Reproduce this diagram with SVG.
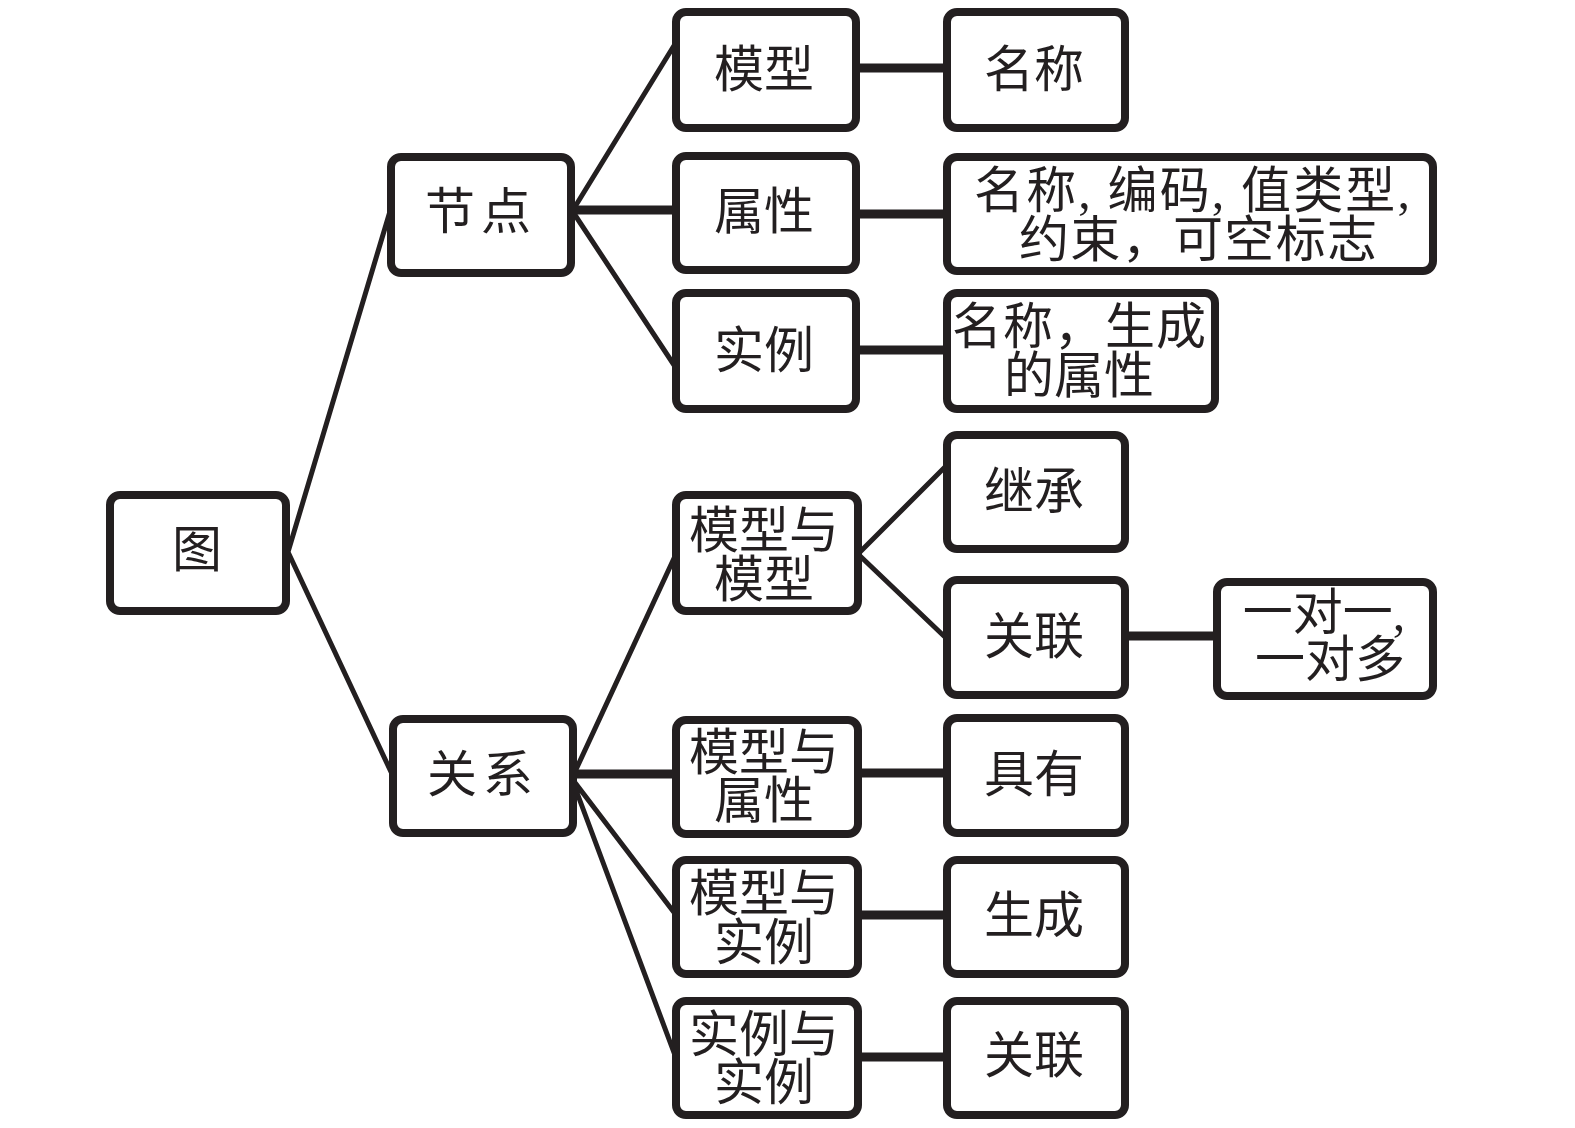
<svg xmlns="http://www.w3.org/2000/svg" width="1575" height="1128" viewBox="0 0 1575 1128">
<style>
.box{fill:#fff;stroke:#231f20;stroke-width:8}
.t{font-family:"Liberation Serif","Noto Sans CJK SC",serif;font-size:50px;fill:#231f20;text-anchor:middle}
.ln{stroke:#231f20;stroke-width:5;fill:none}
.hl{stroke:#231f20;stroke-width:9;fill:none}
</style>
<rect width="1575" height="1128" fill="#fff"/>
<g id="connectors">
<path class="ln" d="M288 552 L391 208 M288 552 L392 774"/>
<path class="ln" d="M573 210 L675 44 M573 212 L676 368 M573 776 L676 554 M573 780 L676 915 M573 782 L676 1058 M859 553 L946 466 M859 555 L946 638"/>
<path class="hl" d="M573 210 L675 210 M859 68 L946 68 M859 214 L946 214 M859 350 L946 350 M1128 636 L1217 636 M573 774 L676 774 M860 773 L946 773 M860 915 L946 915 M860 1057 L946 1057"/>
</g>
<g id="n-tu"><rect class="box" x="110" y="495" width="176" height="116" rx="10"/><text class="t" x="197" y="567">图</text></g>
<g id="n-jiedian"><rect class="box" x="391" y="157" width="180" height="116" rx="10"/><text class="t" x="481" y="229" letter-spacing="6">节点</text></g>
<g id="n-moxing"><rect class="box" x="676" y="12" width="180" height="116" rx="10"/><text class="t" x="764" y="87">模型</text></g>
<g id="n-mingcheng"><rect class="box" x="947" y="12" width="178" height="116" rx="10"/><text class="t" x="1034" y="87">名称</text></g>
<g id="n-shuxing"><rect class="box" x="676" y="156" width="180" height="114" rx="10"/><text class="t" x="764" y="229">属性</text></g>
<g id="n-shuxing-d"><rect class="box" x="947" y="157" width="486" height="114" rx="10"/><text class="t" x="1192" y="208" textLength="436" lengthAdjust="spacing">名称, 编码, 值类型,</text><text class="t" x="1198" y="257" textLength="358" lengthAdjust="spacing">约束，可空标志</text></g>
<g id="n-shili"><rect class="box" x="676" y="293" width="180" height="116" rx="10"/><text class="t" x="764" y="368">实例</text></g>
<g id="n-shili-d"><rect class="box" x="947" y="293" width="268" height="116" rx="10"/><text class="t" x="1079" y="344" textLength="254" lengthAdjust="spacing">名称，生成</text><text class="t" x="1079" y="393">的属性</text></g>
<g id="n-guanxi"><rect class="box" x="393" y="719" width="180" height="114" rx="10"/><text class="t" x="483" y="792" letter-spacing="6">关系</text></g>
<g id="n-mm"><rect class="box" x="676" y="495" width="182" height="116" rx="10"/><text class="t" x="764" y="548">模型与</text><text class="t" x="764" y="597">模型</text></g>
<g id="n-jicheng"><rect class="box" x="947" y="435" width="178" height="114" rx="10"/><text class="t" x="1034" y="509">继承</text></g>
<g id="n-guanlian1"><rect class="box" x="947" y="580" width="178" height="115" rx="10"/><text class="t" x="1034" y="654">关联</text></g>
<g id="n-duo"><rect class="box" x="1217" y="582" width="216" height="114" rx="10"/><text class="t" x="1324" y="630">一对一,</text><text class="t" x="1330" y="677">一对多</text></g>
<g id="n-ms"><rect class="box" x="676" y="720" width="182" height="114" rx="10"/><text class="t" x="764" y="770">模型与</text><text class="t" x="764" y="818">属性</text></g>
<g id="n-juyou"><rect class="box" x="947" y="718" width="178" height="115" rx="10"/><text class="t" x="1034" y="792">具有</text></g>
<g id="n-msl"><rect class="box" x="676" y="860" width="182" height="114" rx="10"/><text class="t" x="764" y="911">模型与</text><text class="t" x="764" y="960">实例</text></g>
<g id="n-shengcheng"><rect class="box" x="947" y="860" width="178" height="114" rx="10"/><text class="t" x="1034" y="933">生成</text></g>
<g id="n-ss"><rect class="box" x="676" y="1001" width="182" height="114" rx="10"/><text class="t" x="764" y="1052">实例与</text><text class="t" x="764" y="1100">实例</text></g>
<g id="n-guanlian2"><rect class="box" x="947" y="1001" width="178" height="114" rx="10"/><text class="t" x="1034" y="1073">关联</text></g>
</svg>
